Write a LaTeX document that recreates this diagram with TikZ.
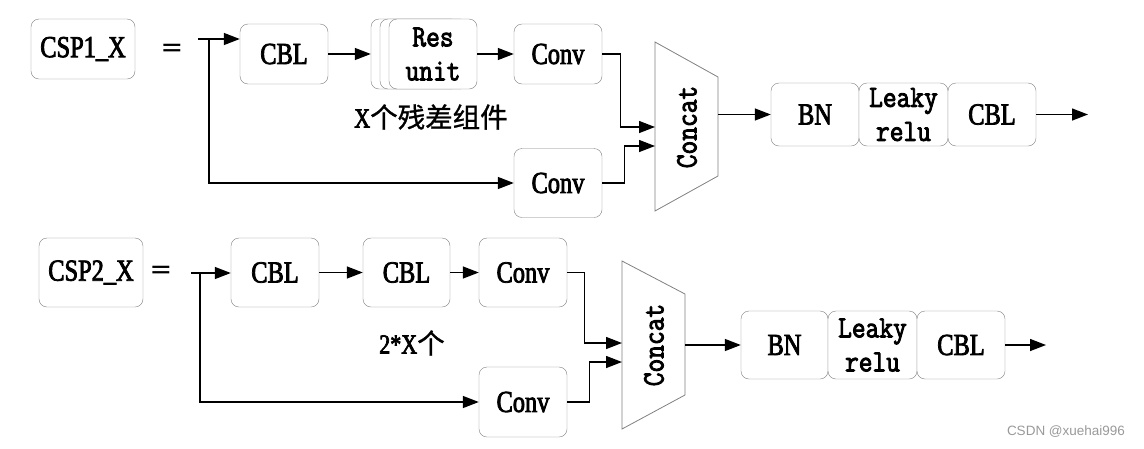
\documentclass[tikz,border=0pt]{standalone}
\usepackage{fontspec}
\setmainfont{Liberation Serif}
\newfontfamily\sercond[FakeStretch=0.8,FakeBold=2.5]{Liberation Serif}
\newfontfamily\monocond[FakeStretch=0.86,FakeBold=2.8]{Latin Modern Mono}
\newfontfamily\cjk[FakeBold=1]{Noto Sans CJK SC}
\newfontfamily\eqfont{DejaVu Sans}
\newfontfamily\wmfont{Liberation Sans}
\usetikzlibrary{arrows.meta}
\begin{document}
\begin{tikzpicture}[x=1pt,y=-1pt,>={Triangle[length=16pt,width=12pt]},
		blk/.style={draw=gray,fill=white,rounded corners=8pt,minimum width=88pt,minimum height=60pt,inner sep=0pt,font=\fontsize{30.5}{32}\sercond},
		blkt/.style={blk,minimum height=69pt},
		twoline/.style={align=center,font=\fontsize{31}{34}\monocond},
		catbox/.style={draw=gray,line width=0.8pt},
		cattext/.style={rotate=90,font=\fontsize{31}{32}\monocond},
		eqsign/.style={font=\fontsize{27}{30}\eqfont},
		wire/.style={line width=1.4pt}]
	\useasboundingbox (0,0) rectangle (1144,448);
	\node[blk,minimum width=104pt] (csp1) at (83,49) {CSP1\_X};
	\node[eqsign] (eq1) at (172,50) {=};
	\coordinate (in1) at (198,39);
	\coordinate (sp1) at (209,39);
	\node[blk] (cbl1) at (284,54) {CBL};
	\node[blk,minimum height=70pt] (res1c) at (415,54) {};
	\node[blk,minimum height=70pt] (res1b) at (424,54) {};
	\node[blk,minimum height=70pt,twoline] (res1) at (433,54) {Res\\unit};
	\node[blk] (conv1a) at (558,54) {Conv};
	\node[blkt] (conv1b) at (558,183) {Conv};
	\node[font=\fontsize{27.5}{30}\cjk] (lbl1) at (431,117) {{\sercond X}个残差组件};
	\draw[catbox] (655,42) -- (718,77) -- (718,176) -- (655,211) -- cycle;
	\node[cattext] (cat1) at (687,127) {Concat};
	\coordinate (cat1i1) at (655,127);
	\coordinate (cat1i2) at (655,146);
	\coordinate (cat1o) at (718,114.5);
	\node[blk,minimum height=63pt] (bn1) at (815,114.5) {BN};
	\node[blk,minimum height=63pt,minimum width=89pt,twoline] (lk1) at (903.5,114.5) {Leaky\\relu};
	\node[blk,minimum height=63pt] (cbl1c) at (992,114.5) {CBL};
	\coordinate (out1) at (1088,114.5);
	\draw[wire,->] (in1) -- (in1 -| cbl1.west);
	\draw[wire,->] (sp1) |- (conv1b.west);
	\draw[wire,->] (cbl1) -- (res1c);
	\draw[wire,->] (res1) -- (conv1a);
	\draw[wire,->] (conv1a.east) -- ++(18,0) |- (cat1i1);
	\draw[wire,->] (conv1b.east) -- ++(22,0) |- (cat1i2);
	\draw[wire,->] (cat1o) -- (bn1);
	\draw[wire,->] (cbl1c) -- (out1);
	\node[blkt,minimum width=104pt] (csp2) at (91,272.5) {CSP2\_X};
	\node[eqsign] (eq2) at (161,272) {=};
	\coordinate (in2) at (191,273);
	\coordinate (sp2) at (200,273);
	\node[blkt] (cbl2a) at (275,272.5) {CBL};
	\node[blkt,minimum width=87pt] (cbl2b) at (406.5,272.5) {CBL};
	\node[blkt] (conv2a) at (523,272.5) {Conv};
	\node[blkt,minimum height=70pt] (conv2b) at (523,402) {Conv};
	\node[font=\fontsize{27.5}{30}\cjk] (lbl2) at (412,343) {{\sercond 2*X}个};
	\draw[catbox] (622,261) -- (685,294) -- (685,395) -- (622,429) -- cycle;
	\node[cattext] (cat2) at (654,345) {Concat};
	\coordinate (cat2i1) at (622,343);
	\coordinate (cat2i2) at (622,362);
	\coordinate (cat2o) at (685,345);
	\node[blk,minimum height=68pt,minimum width=87pt] (bn2) at (784.5,345) {BN};
	\node[blk,minimum height=68pt,minimum width=89pt,twoline] (lk2) at (872.5,345) {Leaky\\relu};
	\node[blk,minimum height=68pt] (cbl2c) at (961,345) {CBL};
	\coordinate (out2) at (1046,345);
	\draw[wire,->] (in2) -- (in2 -| cbl2a.west);
	\draw[wire,->] (sp2) |- (conv2b.west);
	\draw[wire,->] (cbl2a) -- (cbl2b);
	\draw[wire,->] (cbl2b) -- (conv2a);
	\draw[wire,->] (conv2a.east) -- ++(17,0) |- (cat2i1);
	\draw[wire,->] (conv2b.east) -- ++(22,0) |- (cat2i2);
	\draw[wire,->] (cat2o) -- (bn2);
	\draw[wire,->] (cbl2c) -- (out2);
	\node[font=\fontsize{13.5}{15}\wmfont,text=gray!80] (wm) at (1066,432) {CSDN @xuehai996};
\end{tikzpicture}
\end{document}
